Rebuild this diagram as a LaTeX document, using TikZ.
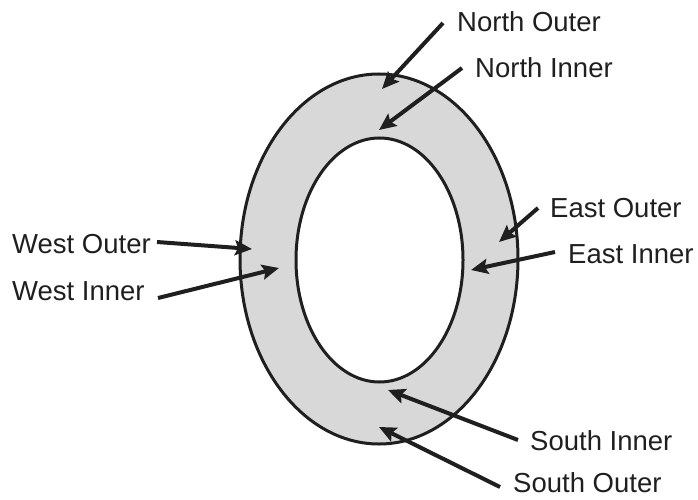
\documentclass[tikz,border=0pt]{standalone}
\usepackage{fontspec}
\setmainfont{Liberation Sans}
\usetikzlibrary{arrows.meta}
\definecolor{ringgray}{RGB}{216,216,216}
\tikzset{
  lbl/.style={anchor=base west, inner sep=0pt, font=\fontsize{27.5pt}{30pt}\selectfont, text=black!88},
  ptr/.style={line width=4pt, black!88, -{Stealth[length=17pt,width=15pt,inset=3pt]}},
  rim/.style={line width=3pt, black!88}
}
\begin{document}
\begin{tikzpicture}[x=1pt,y=-1pt]
\useasboundingbox (0,0) rectangle (698,500);
% ring
\fill[ringgray, even odd rule] (379,259) ellipse [x radius=139, y radius=185]
  (379.5,260) ellipse [x radius=83.5, y radius=122];
\draw[rim] (379,259) ellipse [x radius=139, y radius=185];
\draw[rim] (379.5,260) ellipse [x radius=83.5, y radius=122];
% labels
\node[lbl] (no) at (457,32) {North Outer};
\node[lbl] (ni) at (475,78) {North Inner};
\node[lbl] (wo) at (12,253) {West Outer};
\node[lbl] (wi) at (12,300) {West Inner};
\node[lbl] (eo) at (550,217) {East Outer};
\node[lbl] (ei) at (568,263) {East Inner};
\node[lbl] (si) at (530,450) {South Inner};
\node[lbl] (so) at (513,492) {South Outer};
% arrow ends
\coordinate (noS) at (443,23);  \coordinate (noT) at (382,89);
\coordinate (niS) at (462,68);  \coordinate (niT) at (379,130);
\coordinate (woS) at (157,242); \coordinate (woT) at (252,249);
\coordinate (wiS) at (158,298); \coordinate (wiT) at (279,268);
\coordinate (eoS) at (538,208); \coordinate (eoT) at (499,242);
\coordinate (eiS) at (555,252); \coordinate (eiT) at (471,270);
\coordinate (siS) at (518,440); \coordinate (siT) at (388,390);
\coordinate (soS) at (500,487); \coordinate (soT) at (379,427);
\foreach \a in {no,ni,wo,wi,eo,ei,si,so} \draw[ptr] (\a S) -- (\a T);
\end{tikzpicture}
\end{document}
